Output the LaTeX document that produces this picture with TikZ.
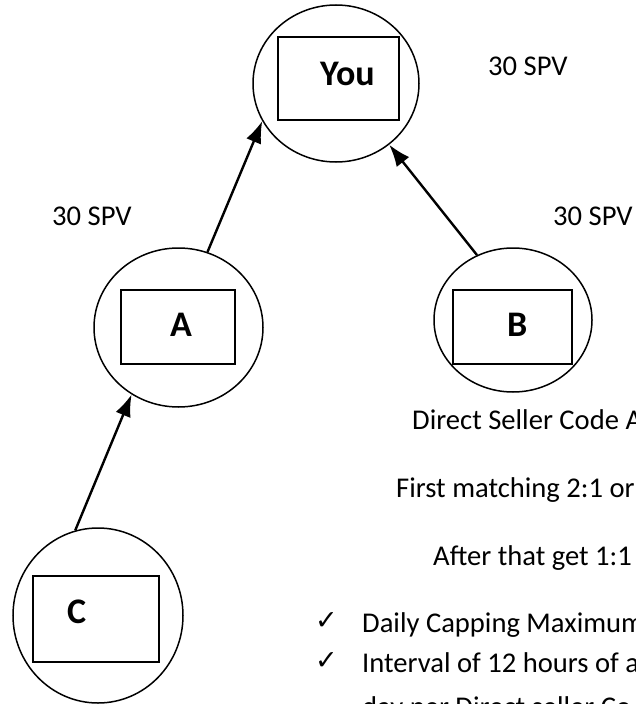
\documentclass[tikz,border=0pt]{standalone}
\usepackage{fontspec}
\setmainfont{Carlito}
\newfontfamily\symfont{DejaVu Sans}
\usetikzlibrary{shapes.geometric,arrows.meta}
\tikzset{
  member/.style={ellipse,draw,line width=1.5pt,inner sep=0pt},
  card/.style={rectangle,draw,line width=1.5pt,inner sep=0pt},
  who/.style={anchor=base west,inner sep=0pt,font=\fontsize{36}{40}\selectfont\bfseries},
  spv/.style={anchor=base west,inner sep=0pt,font=\fontsize{28.6}{32}\selectfont},
  tick/.style={anchor=base west,inner sep=0pt,font=\symfont\fontsize{27}{30}\selectfont},
  uplink/.style={line width=2.4pt,-{Latex[length=22pt,width=16pt]}}
}
\begin{document}
\begin{tikzpicture}[x=1pt,y=-1pt]
                \useasboundingbox (0,0) rectangle (636,704);
                \clip (0,0) rectangle (636,704);
                %% you
                \node[member,minimum width=166pt,minimum height=157pt] (you) at (336,83.5) {};
                \node[card,minimum width=121pt,minimum height=83pt] (youbox) at (338.5,78.5) {};
                \node[who] (youlbl) at (320,85) {You};
                \node[spv] (spvyou) at (488,75) {30 SPV};
                %% left leg
                \node[member,minimum width=169pt,minimum height=159pt] (a) at (178.5,327.5) {};
                \node[card,minimum width=114pt,minimum height=74pt] (abox) at (178,327) {};
                \node[who] (albl) at (170,336) {A};
                \node[spv] (spva) at (52,225) {30 SPV};
                %% right leg
                \node[member,minimum width=158pt,minimum height=144pt] (b) at (513,320) {};
                \node[card,minimum width=119pt,minimum height=74pt] (bbox) at (512.5,327) {};
                \node[who] (blbl) at (507,336) {B};
                \node[spv] (spvb) at (553,225) {30 SPV};
                %% below A
                \node[member,minimum width=170pt,minimum height=175pt] (c) at (98,615.5) {};
                \node[card,minimum width=126pt,minimum height=86pt] (cbox) at (96,619) {};
                \node[who] (clbl) at (67,623) {C};
                %% links
                \draw[uplink] (c.105.8) -- (a.235.4);
                \draw[uplink] (a.69.4) -- (you.207.8);
                \draw[uplink] (b.119.4) -- (you.311);
                %% notes
                \node[spv] (note1) at (412,429) {Direct Seller Code A};
                \node[spv] (note2) at (396,497) {First matching 2:1 or};
                \node[spv] (note3) at (433,565) {After that get 1:1};
                \node[tick] (tick1) at (315,629) {✓};
                \node[spv] (note4) at (362,632) {Daily Capping Maximum};
                \node[tick] (tick2) at (315,669) {✓};
                \node[spv] (note5) at (362,672) {Interval of 12 hours of a};
                \node[spv] (note6) at (362,716) {day per Direct seller Co};
            \end{tikzpicture}
\end{document}
